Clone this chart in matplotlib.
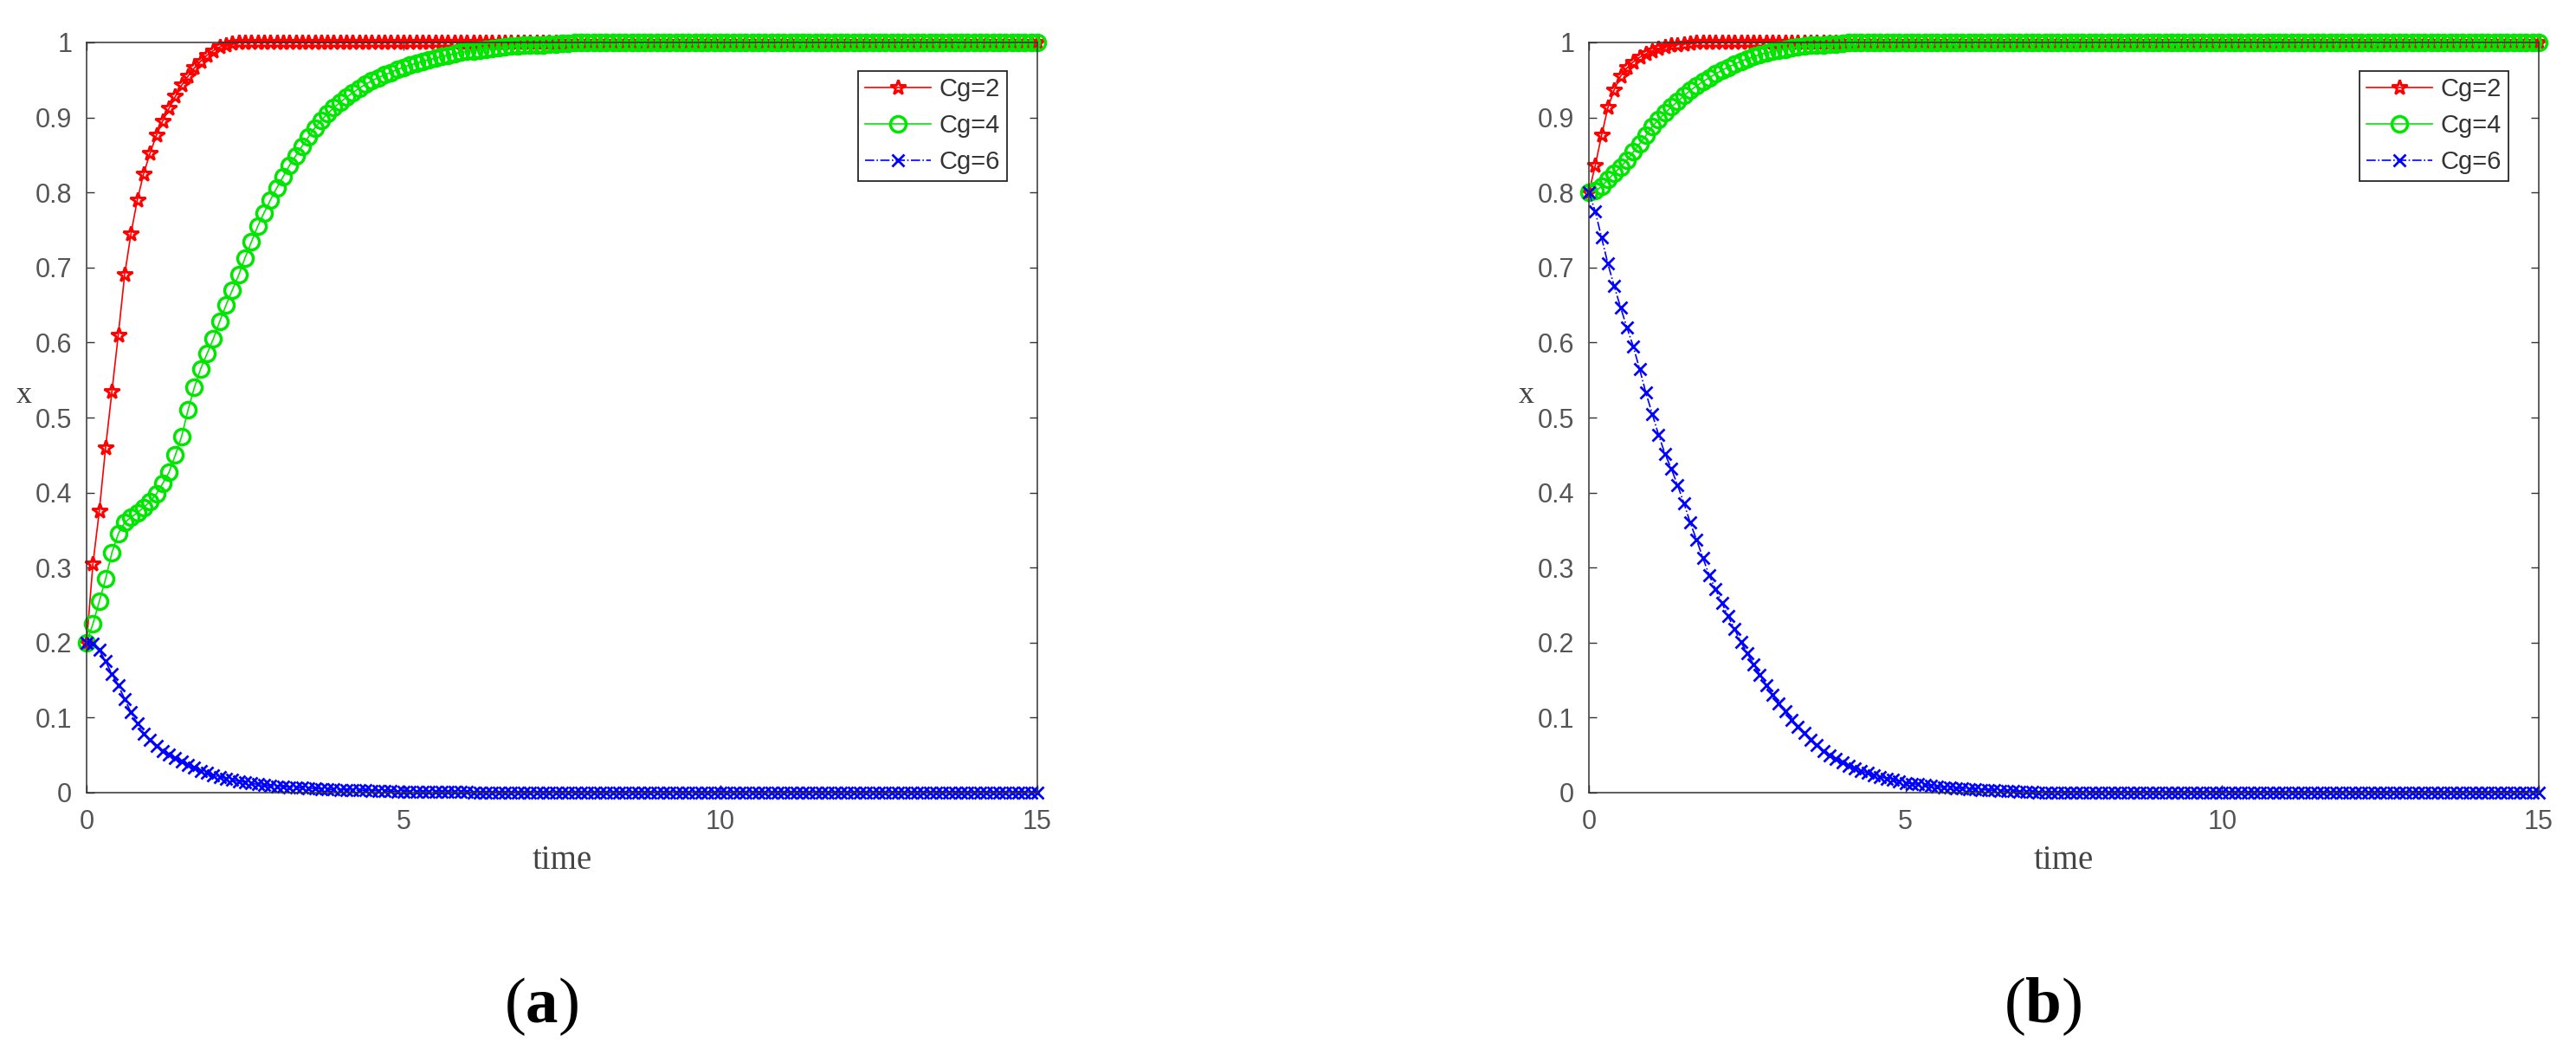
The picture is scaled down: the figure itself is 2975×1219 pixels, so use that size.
import matplotlib
matplotlib.use("Agg")
import matplotlib.pyplot as plt
from matplotlib.ticker import FormatStrFormatter

plt.rcParams['font.family'] = ['Liberation Sans', 'DejaVu Sans']
plt.rcParams['mathtext.fontset'] = 'custom'
plt.rcParams['mathtext.rm'] = 'Liberation Serif'
plt.rcParams['mathtext.bf'] = 'Liberation Serif:bold'

# time grid of the solver output
time = [0.0, 0.1, 0.2, 0.3, 0.4, 0.5, 0.6, 0.7, 0.8, 0.9,
        1.0, 1.1, 1.2, 1.3, 1.4, 1.5, 1.6, 1.7, 1.8, 1.9,
        2.0, 2.1, 2.2, 2.3, 2.4, 2.5, 2.6, 2.7, 2.8, 2.9,
        3.0, 3.1, 3.2, 3.3, 3.4, 3.5, 3.6, 3.7, 3.8, 3.9,
        4.0, 4.1, 4.2, 4.3, 4.4, 4.5, 4.6, 4.7, 4.8, 4.9,
        5.0, 5.1, 5.2, 5.3, 5.4, 5.5, 5.6, 5.7, 5.8, 5.9,
        6.0, 6.1, 6.2, 6.3, 6.4, 6.5, 6.6, 6.7, 6.8, 6.9,
        7.0, 7.1, 7.2, 7.3, 7.4, 7.5, 7.6, 7.7, 7.8, 7.9,
        8.0, 8.1, 8.2, 8.3, 8.4, 8.5, 8.6, 8.7, 8.8, 8.9,
        9.0, 9.1, 9.2, 9.3, 9.4, 9.5, 9.6, 9.7, 9.8, 9.9,
        10.0, 10.1, 10.2, 10.3, 10.4, 10.5, 10.6, 10.7, 10.8, 10.9,
        11.0, 11.1, 11.2, 11.3, 11.4, 11.5, 11.6, 11.7, 11.8, 11.9,
        12.0, 12.1, 12.2, 12.3, 12.4, 12.5, 12.6, 12.7, 12.8, 12.9,
        13.0, 13.1, 13.2, 13.3, 13.4, 13.5, 13.6, 13.7, 13.8, 13.9,
        14.0, 14.1, 14.2, 14.3, 14.4, 14.5, 14.6, 14.7, 14.8, 14.9,
        15.0]


def pad(head, value):
    """after the transient the curve sits on its steady value"""
    return head + [value] * (len(time) - len(head))


# (a) x0 = 0.2
red_a = pad([0.20, 0.305, 0.375, 0.46, 0.535, 0.61, 0.69, 0.745, 0.79, 0.825,
             0.852, 0.876, 0.895, 0.912, 0.928, 0.943, 0.955, 0.966, 0.975, 0.983,
             0.989, 0.994, 0.997, 0.999], 1.0)
green_a = pad([0.20, 0.225, 0.255, 0.285, 0.32, 0.345, 0.36, 0.367, 0.373, 0.38,
               0.388, 0.398, 0.412, 0.427, 0.45, 0.475, 0.51, 0.54, 0.565, 0.585,
               0.605, 0.628, 0.65, 0.67, 0.69, 0.713, 0.734, 0.755, 0.773, 0.79,
               0.806, 0.821, 0.836, 0.849, 0.862, 0.874, 0.886, 0.896, 0.905, 0.913,
               0.92, 0.927, 0.933, 0.939, 0.944, 0.949, 0.953, 0.957, 0.96, 0.964,
               0.967, 0.97, 0.972, 0.975, 0.977, 0.979, 0.981, 0.983, 0.985, 0.987,
               0.988, 0.989, 0.99, 0.991, 0.992, 0.993, 0.994, 0.995, 0.995, 0.996,
               0.996, 0.997, 0.997, 0.998, 0.998, 0.999, 0.999], 1.0)
blue_a = pad([0.20, 0.199, 0.19, 0.175, 0.158, 0.143, 0.125, 0.107, 0.092, 0.079,
              0.07, 0.062, 0.056, 0.051, 0.046, 0.041, 0.037, 0.033, 0.029, 0.026,
              0.023, 0.021, 0.019, 0.017, 0.015, 0.014, 0.0125, 0.011, 0.01, 0.009,
              0.0085, 0.008, 0.0075, 0.007, 0.0065, 0.006, 0.0055, 0.005, 0.0045, 0.0042,
              0.004, 0.0037, 0.0035, 0.0032, 0.003, 0.0027, 0.0025, 0.0022, 0.002, 0.0017,
              0.0015, 0.001, 0.001, 0.001, 0.001, 0.001, 0.001, 0.001, 0.001, 0.001,
              0.001], 0.0)

# (b) x0 = 0.8
red_b = pad([0.80, 0.836, 0.876, 0.913, 0.937, 0.955, 0.966, 0.974, 0.98, 0.985,
             0.989, 0.992, 0.994, 0.996, 0.997, 0.998, 0.999], 1.0)
green_b = pad([0.80, 0.802, 0.808, 0.817, 0.826, 0.834, 0.843, 0.854, 0.865, 0.876,
               0.888, 0.897, 0.906, 0.914, 0.921, 0.929, 0.936, 0.942, 0.948, 0.953,
               0.958, 0.963, 0.967, 0.971, 0.975, 0.978, 0.981, 0.984, 0.986, 0.988,
               0.99, 0.991, 0.993, 0.994, 0.995, 0.996, 0.997, 0.997, 0.998, 0.998,
               0.999], 1.0)
blue_b = pad([0.80, 0.775, 0.74, 0.705, 0.675, 0.647, 0.62, 0.595, 0.565, 0.533,
              0.505, 0.477, 0.452, 0.432, 0.41, 0.386, 0.36, 0.337, 0.313, 0.29,
              0.271, 0.253, 0.235, 0.218, 0.201, 0.186, 0.171, 0.157, 0.143, 0.131,
              0.119, 0.108, 0.097, 0.088, 0.08, 0.071, 0.063, 0.056, 0.05, 0.045,
              0.04, 0.036, 0.032, 0.029, 0.026, 0.023, 0.021, 0.019, 0.017, 0.015,
              0.013, 0.012, 0.011, 0.01, 0.009, 0.008, 0.007, 0.0065, 0.006, 0.0055,
              0.005, 0.0045, 0.004, 0.0035, 0.003, 0.0025, 0.002, 0.0018, 0.0015, 0.0012,
              0.001], 0.0)

labels = ["Cg=2", "Cg=4", "Cg=6"]
panels = [("a", [red_a, green_a, blue_a]), ("b", [red_b, green_b, blue_b])]

# line styles: red pentagram, green circle, blue dash-dot cross
styles = [dict(color=(1, 0, 0), ls="-", marker="*", ms=13, mew=2.1),
          dict(color=(0, 0.9, 0), ls="-", marker="o", ms=13, mew=2.5),
          dict(color=(0, 0, 1), ls="-.", marker="x", ms=10, mew=2.0)]

W, H = 2975, 1219
fig = plt.figure(figsize=(W / 100, H / 100), dpi=100)

axes_px = [(100, 1198), (1835, 2932)]   # left/right of each box in pixels
top_px, bot_px = 49, 915
caption_x = [625, 2359]

for (tag, curves), (x0, x1), cx in zip(panels, axes_px, caption_x):
    ax = fig.add_axes([x0 / W, 1 - bot_px / H, (x1 - x0) / W, (bot_px - top_px) / H])
    for y, lab, st in zip(curves, labels, styles):
        ax.plot(time, y, linestyle=st["ls"], color=st["color"], lw=1.2,
                marker=st["marker"], ms=st["ms"], mfc="none", mew=st["mew"],
                label=lab, clip_on=False)

    ax.set_xlim(0, 15)
    ax.set_ylim(0, 1)
    ax.set_xticks([0, 5, 10, 15])
    ax.set_yticks([0, 0.1, 0.2, 0.3, 0.4, 0.5, 0.6, 0.7, 0.8, 0.9, 1.0])
    ax.yaxis.set_major_formatter(FormatStrFormatter("%g"))
    ax.tick_params(direction="in", length=6.5, width=1.0, top=True, right=True,
                   labelsize=22, labelcolor="#555555", color="#333333")
    ax.tick_params(axis="x", pad=14)
    ax.tick_params(axis="y", pad=12)
    for sp in ax.spines.values():
        sp.set_color("#333333")
        sp.set_linewidth(1.1)

    ax.set_xlabel("time", family="Liberation Serif", fontsize=28, color="#444444",
                  va="center")
    ax.xaxis.set_label_coords(0.5, -0.091)
    ax.set_ylabel("x", family="Liberation Serif", fontsize=26, color="#444444",
                  rotation=0, va="center", ha="center")
    ax.yaxis.set_label_coords(-0.066, 0.53)

    leg = ax.legend(loc="upper right", bbox_to_anchor=(0.968, 0.962),
                    borderaxespad=0, fontsize=21, fancybox=False,
                    edgecolor="#262626", framealpha=1, handlelength=2.6,
                    handletextpad=0.35, labelspacing=0.48, borderpad=0.26)
    leg.get_frame().set_linewidth(1.3)
    for t in leg.get_texts():
        t.set_color("#333333")

    fig.text(cx / W, 1 - 1162 / H, r"($\mathbf{%s}$)" % tag,
             family="Liberation Serif", fontsize=54, ha="center", va="center")

fig.savefig("out.png", dpi=100)
